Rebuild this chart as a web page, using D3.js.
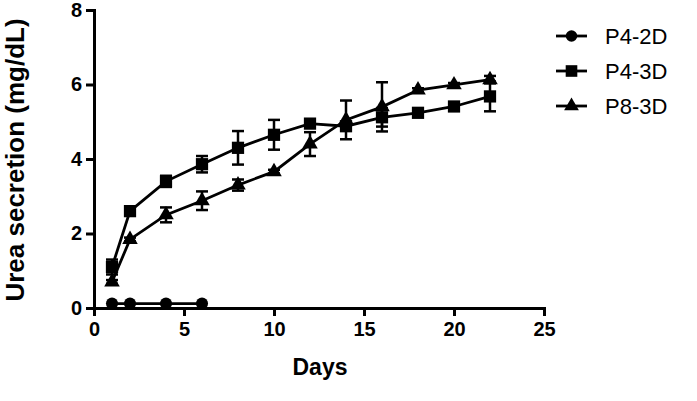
<!DOCTYPE html>
<html>
<head>
<meta charset="utf-8">
<script src="https://cdnjs.cloudflare.com/ajax/libs/d3/7.8.5/d3.min.js"></script>
<style>
  body { margin: 0; background: #fff; }
  text { font-family: "Liberation Sans", Arial, sans-serif; }
</style>
</head>
<body>
<div id="chart"></div>
<script>
// data
var seriesNames = ["P4-2D", "P4-3D", "P8-3D"];
var days2D = [1, 2, 4, 6];
var p42dMean = [0.12, 0.12, 0.12, 0.12];
var p42dErr = [0, 0, 0, 0];
var days3D = [1, 2, 4, 6, 8, 10, 12, 14, 16, 18, 20, 22];
var p43dMean = [1.1, 2.6, 3.4, 3.86, 4.3, 4.65, 4.95, 4.88, 5.12, 5.24, 5.41, 5.68];
var p43dErr = [0.2, 0.08, 0.15, 0.22, 0.45, 0.4, 0.1, 0.1, 0.25, 0.1, 0.08, 0.4];
var p83dMean = [0.7, 1.84, 2.5, 2.88, 3.3, 3.66, 4.4, 5.05, 5.4, 5.85, 5.99, 6.13];
var p83dErr = [0.05, 0.05, 0.2, 0.25, 0.15, 0.05, 0.32, 0.52, 0.66, 0.05, 0.05, 0.1];
var xTicks = [0, 5, 10, 15, 20, 25];
var yTicks = [0, 2, 4, 6, 8];

var W = 697, H = 401;
var margin = {top: 10, left: 94, right: 153, bottom: 93};
var width = 544 - margin.left,
    height = 308 - margin.top;

var svg = d3.select("#chart").append("svg")
    .attr("width", W).attr("height", H);

var g = svg.append("g")
    .attr("transform", "translate(" + margin.left + "," + margin.top + ")");

var x = d3.scaleLinear().domain([0, 25]).range([0, width]);
var y = d3.scaleLinear().domain([0, 8]).range([height, 0]);

// axes
var xAxis = g.append("g")
    .attr("transform", "translate(0," + height + ")")
    .call(d3.axisBottom(x).tickValues(xTicks).tickSize(8).tickPadding(6));
var yAxis = g.append("g")
    .call(d3.axisLeft(y).tickValues(yTicks).tickSize(8).tickPadding(4));

[xAxis, yAxis].forEach(function(a) {
  a.select(".domain").attr("stroke", "#000").attr("stroke-width", 3);
  a.selectAll(".tick line").attr("stroke", "#000").attr("stroke-width", 3);
  a.selectAll(".tick text")
    .attr("fill", "#000")
    .style("font-size", "20px")
    .style("font-weight", "bold");
});

// axis titles
svg.append("text")
    .attr("x", 320).attr("y", 375)
    .attr("text-anchor", "middle")
    .style("font-size", "23px").style("font-weight", "bold")
    .text("Days");

svg.append("text")
    .attr("transform", "translate(24,160) rotate(-90)")
    .attr("text-anchor", "middle")
    .style("font-size", "26px").style("font-weight", "bold")
    .text("Urea secretion (mg/dL)");

var series = [
  {name: seriesNames[0], days: days2D, mean: p42dMean, err: p42dErr, shape: d3.symbolCircle, size: 115},
  {name: seriesNames[1], days: days3D, mean: p43dMean, err: p43dErr, shape: d3.symbolSquare, size: 150},
  {name: seriesNames[2], days: days3D, mean: p83dMean, err: p83dErr, shape: d3.symbolTriangle, size: 105}
];

var line = d3.line()
    .x(function(d) { return x(d.day); })
    .y(function(d) { return y(d.mean); });

series.forEach(function(s) {
  var pts = s.days.map(function(d, i) { return {day: d, mean: s.mean[i], err: s.err[i]}; });

  // error bars
  var eb = g.append("g");
  pts.filter(function(d) { return d.err > 0; }).forEach(function(d) {
    eb.append("line")
      .attr("x1", x(d.day)).attr("x2", x(d.day))
      .attr("y1", y(d.mean - d.err)).attr("y2", y(d.mean + d.err))
      .attr("stroke", "#000").attr("stroke-width", 2.5);
    [d.mean - d.err, d.mean + d.err].forEach(function(v) {
      eb.append("line")
        .attr("x1", x(d.day) - 6).attr("x2", x(d.day) + 6)
        .attr("y1", y(v)).attr("y2", y(v))
        .attr("stroke", "#000").attr("stroke-width", 2.5);
    });
  });

  g.append("path")
    .datum(pts)
    .attr("d", line)
    .attr("fill", "none")
    .attr("stroke", "#000")
    .attr("stroke-width", 2.8);

  g.selectAll(null)
    .data(pts)
    .enter().append("path")
    .attr("transform", function(d) { return "translate(" + x(d.day) + "," + y(d.mean) + ")"; })
    .attr("d", d3.symbol().type(s.shape).size(s.size))
    .attr("fill", "#000");
});

// legend
var legend = svg.append("g").attr("transform", "translate(556,36)");
series.forEach(function(s, i) {
  var row = legend.append("g").attr("transform", "translate(0," + (i * 35) + ")");
  row.append("line")
    .attr("x1", 0).attr("x2", 31)
    .attr("stroke", "#000").attr("stroke-width", 2.8);
  row.append("path")
    .attr("transform", "translate(15.5,0)")
    .attr("d", d3.symbol().type(s.shape).size(s.size * 0.9))
    .attr("fill", "#000");
  row.append("text")
    .attr("x", 49).attr("y", 8)
    .style("font-size", "22px")
    .text(s.name);
});
</script>
</body>
</html>
